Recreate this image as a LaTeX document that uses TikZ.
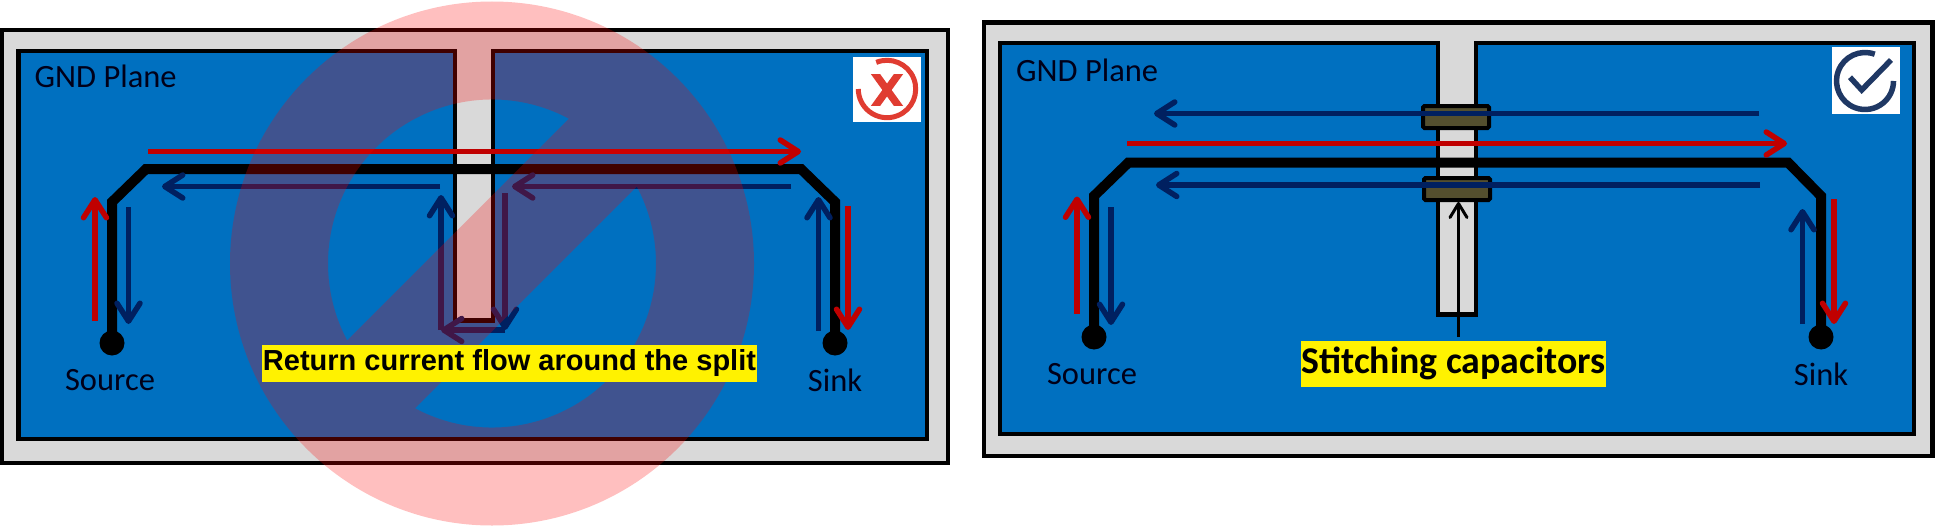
\documentclass[tikz,border=0pt]{standalone}
\usepackage{fontspec}
\setmainfont{Carlito}
\newfontfamily\arialfont{Liberation Sans}
\usetikzlibrary{arrows.meta}
\definecolor{planeblue}{HTML}{0070C0}
\definecolor{slotgray}{HTML}{D9D9D9}
\definecolor{curred}{HTML}{C00000}
\definecolor{curblue}{HTML}{002060}
\definecolor{capbrown}{HTML}{544F2E}
\definecolor{iconred}{HTML}{E03C31}
\definecolor{iconblue}{HTML}{1F3864}
\tikzset{
  board/.style={draw=black,line width=4.5pt,fill=slotgray},
  plane/.style={draw=black,line width=4.5pt,fill=planeblue},
  trace/.style={draw=black,line width=10pt,line join=miter},
  pad/.style={circle,fill=black,minimum size=25pt,inner sep=0pt},
  redcur/.style={draw=curred,line width=5.5pt,-{Straight Barb[length=18pt,width=23pt,round]}},
  bluecur/.style={draw=curblue,line width=5.5pt,-{Straight Barb[length=18pt,width=23pt,round]}},
  txt/.style={font=\fontsize{32.5}{32.5}\selectfont,text=black!90!blue,inner sep=0pt},
  callout/.style={fill=yellow,inner sep=0pt,text=black},
  capbox/.style={draw=black,fill=capbrown,line width=4pt,rounded corners=1.5pt,minimum width=66pt,minimum height=22pt,inner sep=0pt}
}
\begin{document}
\begin{tikzpicture}[x=1pt,y=1pt,yscale=-1]
  \useasboundingbox (0,0) rectangle (1935,527);
  %left panel
  \draw [board] (2,30) rectangle (948,463);
  \draw [plane] (18.5,51) -- (455,51) -- (455,320.5) -- (493,320.5) -- (493,51) -- (927,51) -- (927,439) -- (18.5,439) -- cycle; %with split
  \node (iconX) [fill=white,minimum width=68pt,minimum height=65pt,inner sep=0pt] at (887,89.5) {};
  \draw [iconred,line width=5pt] (887,89) ++(-112:28.7) arc (-112:180:28.7);
  \begin{scope}
    \clip (870,75) rectangle (905,105);
    \draw [iconred,line width=7.5pt] (874,72) -- (900,108);
    \draw [iconred,line width=7.5pt] (900,72) -- (874,108);
  \end{scope}
  \node (gndA) [txt,anchor=west] at (34.5,76.5) {GND Plane};
  \node (srcA) [pad] at (112,343) {};
  \node (snkA) [pad] at (835,343) {};
  \node (srcTxtA) [txt] at (110,380) {Source};
  \node (snkTxtA) [txt] at (835,380) {Sink};
  \draw [trace] (srcA.center) -- (112,202) -- (146,169) -- (801,169) -- (835,202) -- (snkA.center);
  \draw [redcur] (148,151.5) -- (801,151.5);
  \draw [redcur] (95,321) -- (95,197);
  \draw [redcur] (848,206) -- (848,330);
  \draw [bluecur] (128.5,207) -- (128.5,324);
  \draw [bluecur] (440,186.5) -- (162,186.5);
  \draw [bluecur] (791,186.5) -- (512,186.5);
  \draw [bluecur] (818.5,331) -- (818.5,197);
  \draw [bluecur] (441,330) -- (441,195);
  \draw [bluecur] (505,193) -- (505,330);
  \draw [bluecur] (505,330) -- (441,330);
  %no sign on top of the left panel
  \coordinate (ringc) at (492,263.5);
  \fill [red,opacity=.25,even odd rule] (ringc) circle (262)
    (ringc) ++(-62:164) arc (-62:-208:164) -- cycle
    (ringc) ++(118:164) arc (118:-28:164) -- cycle;
  \node (noteA) [callout,minimum width=495pt,minimum height=36.5pt] at (509.5,363.25) {\arialfont\bfseries\fontsize{29}{29}\selectfont Return current flow around the split};
  %right panel
  \draw [board] (984,22.5) rectangle (1932.5,456);
  \draw [plane] (1000,43) -- (1438,43) -- (1438,314.5) -- (1476,314.5) -- (1476,43) -- (1914,43) -- (1914,434) -- (1000,434) -- cycle; %with split
  \node (iconV) [fill=white,minimum width=68pt,minimum height=67pt,inner sep=0pt] at (1866,80.5) {};
  \draw [iconblue,line width=5.5pt] (1865,81) ++(-70:28.5) arc (-70:-360:28.5);
  \draw [iconblue,line width=5.5pt] (1850,77.3) -- (1861.7,90) -- (1891,60);
  \node (gndB) [txt,anchor=west] at (1016,70) {GND Plane};
  \node (srcB) [pad] at (1094,337) {};
  \node (snkB) [pad] at (1821,337) {};
  \node (srcTxtB) [txt] at (1092,374) {Source};
  \node (snkTxtB) [txt] at (1821,374) {Sink};
  \draw [trace] (srcB.center) -- (1094,196) -- (1128.5,162.5) -- (1788,162.5) -- (1821,196) -- (snkB.center);
  \node (capT) [capbox] at (1456,117) {};
  \node (capL) [capbox] at (1457,189) {};
  \draw [redcur] (1127,143.5) -- (1787,143.5);
  \draw [redcur] (1077,313.5) -- (1077,196.5);
  \draw [redcur] (1834,199) -- (1834,324);
  \draw [bluecur] (1759,113.5) -- (1154,113.5);
  \draw [bluecur] (1760,185) -- (1156,185);
  \draw [bluecur] (1111,207) -- (1111,325);
  \draw [bluecur] (1802.5,324) -- (1802.5,209);
  \node (noteB) [callout,minimum width=305pt,minimum height=45.5pt] at (1453.5,363.75) {\bfseries\fontsize{37.8}{37.8}\selectfont Stitching capacitors};
  \coordinate (capfoot) at (1458.5,337);
  \draw [black,line width=3pt,-{Straight Barb[length=14pt,width=17pt,round]}] (capfoot) -- (capL.south -| capfoot);
\end{tikzpicture}
\end{document}
